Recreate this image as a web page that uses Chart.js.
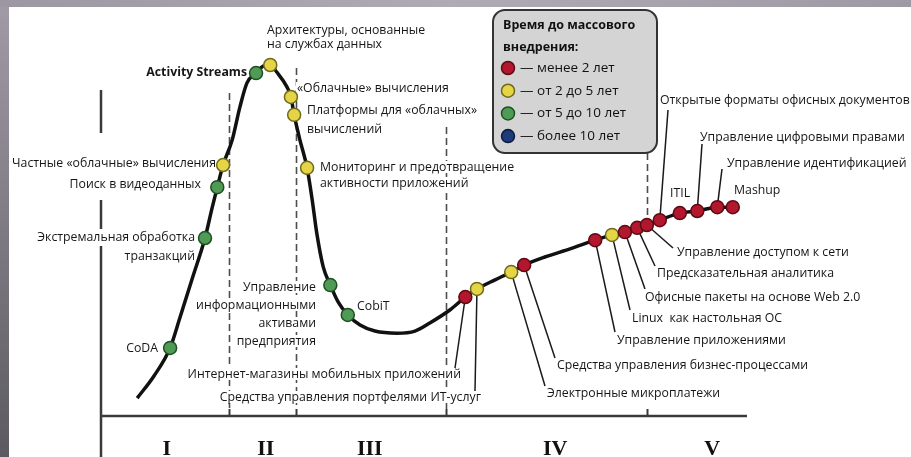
<!DOCTYPE html>
<html lang="ru">
<head>
<meta charset="utf-8">
<script src="https://cdn.jsdelivr.net/npm/chart.js@4.4.1/dist/chart.umd.min.js"></script>
<style>
  html, body { margin: 0; padding: 0; background: #fff; }
  #wrap { position: relative; width: 911px; height: 457px; }
</style>
</head>
<body>
<div id="wrap"><canvas id="hype" width="911" height="457"></canvas></div>
<script>
// Фазы цикла зрелости (границы по оси времени, 0..100)
const stageNames = ['I', 'II', 'III', 'IV', 'V'];
const stageBounds = [0, 19.8, 30.2, 53.4, 84.5, 100];
const stageLabelPos = [10.2, 25.5, 41.6, 70.3, 94.6];

// Кривая: время и уровень ожиданий
const curveTime = [5.6, 8.2, 10.7, 12.2, 14.2, 16.1, 17.2, 18.0, 18.9, 20.3, 21.5, 22.6, 24.0, 25.1, 26.2,
  27.2, 28.8, 29.4, 29.9, 30.8, 31.9, 32.7, 33.4, 34.4, 35.5, 36.7, 38.2, 40.1, 42.4, 45.8, 48.6,
  50.9, 54.0, 56.4, 58.2, 61.0, 63.5, 65.5, 68.7, 72.6, 76.5, 79.1, 81.1, 83.0, 84.5, 86.5, 89.6,
  92.3, 95.4, 97.8];
const curveLevel = [5.1, 11.4, 19.4, 27.9, 39.6, 50.7, 59.3, 65.2, 71.5, 78.6, 88.0, 94.9, 97.7, 99.7, 100.0,
  98.0, 93.7, 90.9, 85.8, 78.6, 70.7, 61.5, 52.1, 42.5, 37.3, 32.5, 28.8, 25.9, 24.2, 23.6, 24.2,
  26.5, 30.2, 33.9, 36.2, 38.8, 41.0, 43.0, 45.3, 47.6, 50.1, 51.6, 52.4, 53.6, 54.4, 55.8, 57.8,
  58.4, 59.5, 59.5];

// Технологии
const techNames = [
  'CoDA', 'Экстремальная обработка транзакций', 'Поиск в видеоданных', 'Частные «облачные» вычисления',
  'Activity Streams', 'Архитектуры, основанные на службах данных', '«Облачные» вычисления',
  'Платформы для «облачных» вычислений', 'Мониторинг и предотвращение активности приложений',
  'Управление информационными активами предприятия', 'CobiT', 'Интернет-магазины мобильных приложений',
  'Средства управления портфелями ИТ-услуг', 'Электронные микроплатежи', 'Средства управления бизнес-процессами',
  'Управление приложениями', 'Linux  как настольная ОС', 'Офисные пакеты на основе Web 2.0',
  'Предсказательная аналитика', 'Управление доступом к сети', 'Открытые форматы офисных документов',
  'ITIL', 'Управление цифровыми правами', 'Управление идентификацией', 'Mashup'
];
const techTime = [10.7, 16.1, 18.0, 18.9, 24.0, 26.2, 29.4, 29.9, 31.9, 35.5, 38.2, 56.4, 58.2, 63.5,
  65.5, 76.5, 79.1, 81.1, 83.0, 84.5, 86.5, 89.6, 92.3, 95.4, 97.8];
const techLevel = [19.4, 50.7, 65.2, 71.5, 97.7, 100.0, 90.9, 85.8, 70.7, 37.3, 28.8, 33.9, 36.2, 41.0,
  43.0, 50.1, 51.6, 52.4, 53.6, 54.4, 55.8, 57.8, 58.4, 59.5, 59.5];
// 0: менее 2 лет, 1: от 2 до 5, 2: от 5 до 10, 3: более 10
const techAdoption = [2, 2, 2, 1, 2, 1, 1, 1, 1, 2, 2, 0, 1, 1, 0, 0, 1, 0, 0, 0, 0, 0, 0, 0, 0];

// Легенда
const legendTitle = ['Время до массового', 'внедрения:'];
const adoptionLabels = ['— менее 2 лет', '— от 2 до 5 лет', '— от 5 до 10 лет', '— более 10 лет'];
const adoptionFill = ['#b3172d', '#e6d447', '#4f9a55', '#1d3a7a'];
const adoptionStroke = ['#5c0a14', '#6e6a1c', '#1f4f24', '#0c1a3c'];

// Подписи (пиксели): строки, x, y, выравнивание, конец выноски
const labelLayout = [
  { lines: ['CoDA'], x: 158, y: 348, align: 'right' },
  { lines: ['Экстремальная обработка', 'транзакций'], x: 195, y: 237, lh: 19, align: 'right' },
  { lines: ['Поиск в видеоданных'], x: 201, y: 184, align: 'right' },
  { lines: ['Частные «облачные» вычисления'], x: 216, y: 163, align: 'right' },
  { lines: ['Activity Streams'], x: 247, y: 72, align: 'right', bold: true },
  { lines: ['Архитектуры, основанные', 'на службах данных'], x: 267, y: 30, lh: 14, align: 'left' },
  { lines: ['«Облачные» вычисления'], x: 297, y: 88, align: 'left' },
  { lines: ['Платформы для «облачных»', 'вычислений'], x: 307, y: 110, lh: 19, align: 'left' },
  { lines: ['Мониторинг и предотвращение', 'активности приложений'], x: 320, y: 167, lh: 16, align: 'left' },
  { lines: ['Управление', 'информационными', 'активами', 'предприятия'], x: 316, y: 287, lh: 18, align: 'right' },
  { lines: ['CobiT'], x: 357, y: 306, align: 'left' },
  { lines: ['Интернет-магазины мобильных приложений'], x: 461, y: 374, align: 'right', lead: [455, 368] },
  { lines: ['Средства управления портфелями ИТ-услуг'], x: 481, y: 397, align: 'right', lead: [475, 391] },
  { lines: ['Электронные микроплатежи'], x: 547, y: 393, align: 'left', lead: [545, 386] },
  { lines: ['Средства управления бизнес-процессами'], x: 557, y: 365, align: 'left', lead: [555, 358] },
  { lines: ['Управление приложениями'], x: 617, y: 340, align: 'left', lead: [615, 332] },
  { lines: ['Linux  как настольная ОС'], x: 632, y: 318, align: 'left', lead: [630, 310] },
  { lines: ['Офисные пакеты на основе Web 2.0'], x: 645, y: 297, align: 'left', lead: [645, 289] },
  { lines: ['Предсказательная аналитика'], x: 657, y: 273, align: 'left', lead: [655, 266] },
  { lines: ['Управление доступом к сети'], x: 677, y: 252, align: 'left', lead: [673, 248] },
  { lines: ['Открытые форматы офисных документов'], x: 660, y: 100, align: 'left', lead: [668, 110] },
  { lines: ['ITIL'], x: 670, y: 193, align: 'left' },
  { lines: ['Управление цифровыми правами'], x: 700, y: 137, align: 'left', lead: [702, 144] },
  { lines: ['Управление идентификацией'], x: 727, y: 163, align: 'left', lead: [722, 169] },
  { lines: ['Mashup'], x: 734, y: 190, align: 'left' }
];

// верх и низ пунктирных линий фаз (пиксели)
const dividerSpans = [[93, 409], [68, 409], [127, 409], [153, 222]];

const labelFont = "12.3px 'Open Sans', sans-serif";

const hypeDecor = {
  id: 'hypeDecor',
  beforeDatasetsDraw(chart) {
    const ctx = chart.ctx;
    const xs = chart.scales.x, ys = chart.scales.y;
    const y0 = ys.getPixelForValue(0);
    const x0 = xs.getPixelForValue(0);
    ctx.save();

    // пунктир между фазами
    ctx.strokeStyle = '#4d4d4d';
    ctx.lineWidth = 1.6;
    ctx.setLineDash([7, 4]);
    stageBounds.slice(1, 5).forEach((b, i) => {
      const px = Math.round(xs.getPixelForValue(b)) + 0.5;
      ctx.beginPath();
      ctx.moveTo(px, dividerSpans[i][0]);
      ctx.lineTo(px, dividerSpans[i][1]);
      ctx.stroke();
    });
    ctx.setLineDash([]);

    // оси
    ctx.strokeStyle = '#3a3a3a';
    ctx.lineWidth = 2.5;
    ctx.beginPath();
    ctx.moveTo(x0, y0);
    ctx.lineTo(xs.getPixelForValue(100), y0);
    [[90, 133], [200, 229], [246, 457]].forEach(s => {
      ctx.moveTo(x0, s[0]);
      ctx.lineTo(x0, s[1]);
    });
    ctx.stroke();
    ctx.lineWidth = 2;
    stageBounds.slice(1, 5).forEach(b => {
      const px = Math.round(xs.getPixelForValue(b)) + 0.5;
      ctx.beginPath();
      ctx.moveTo(px, y0 - 7);
      ctx.lineTo(px, y0);
      ctx.stroke();
    });

    // римские цифры фаз
    ctx.fillStyle = '#111';
    ctx.font = "bold 22px 'Liberation Serif', serif";
    ctx.textAlign = 'center';
    ctx.textBaseline = 'alphabetic';
    stageNames.forEach((s, i) => {
      ctx.fillText(s, xs.getPixelForValue(stageLabelPos[i]), 455);
    });

    // выноски
    ctx.strokeStyle = '#1a1a1a';
    ctx.lineWidth = 1.5;
    labelLayout.forEach((l, i) => {
      if (!l.lead) return;
      ctx.beginPath();
      ctx.moveTo(xs.getPixelForValue(techTime[i]), ys.getPixelForValue(techLevel[i]));
      ctx.lineTo(l.lead[0], l.lead[1]);
      ctx.stroke();
    });

    // подписи
    ctx.textBaseline = 'middle';
    labelLayout.forEach(l => {
      ctx.font = l.bold ? "bold " + labelFont : labelFont;
      ctx.textAlign = l.align;
      l.lines.forEach((t, k) => {
        const y = l.y + k * (l.lh || 15);
        const w = ctx.measureText(t).width;
        const left = l.align === 'right' ? l.x - w : l.x;
        ctx.fillStyle = '#fff';
        ctx.fillRect(left - 1, y - 6, w + 2, 12);
        ctx.fillStyle = '#161616';
        ctx.fillText(t, l.x, y);
      });
    });

    // легенда
    ctx.fillStyle = '#d4d4d4';
    ctx.strokeStyle = '#333';
    ctx.lineWidth = 2;
    ctx.beginPath();
    ctx.roundRect(493, 10, 164, 143, 12);
    ctx.fill();
    ctx.stroke();
    ctx.textAlign = 'left';
    ctx.fillStyle = '#111';
    ctx.font = "bold 12.5px 'Open Sans', sans-serif";
    legendTitle.forEach((t, k) => ctx.fillText(t, 503, 25 + k * 22));
    ctx.font = "13.5px 'Open Sans', sans-serif";
    adoptionLabels.forEach((t, k) => {
      const y = 68 + k * 22.7;
      ctx.beginPath();
      ctx.arc(508, y, 6.5, 0, Math.PI * 2);
      ctx.fillStyle = adoptionFill[k];
      ctx.fill();
      ctx.lineWidth = 1.5;
      ctx.strokeStyle = adoptionStroke[k];
      ctx.stroke();
      ctx.fillStyle = '#111';
      ctx.fillText(t, 520, y);
    });
    ctx.restore();
  },
  afterDraw(chart) {
    // серая рамка слайда
    const ctx = chart.ctx;
    ctx.save();
    let g = ctx.createLinearGradient(0, 0, 0, 457);
    g.addColorStop(0, '#a19ba7');
    g.addColorStop(1, '#5c5a60');
    ctx.fillStyle = g;
    ctx.fillRect(0, 0, 9, 457);
    g = ctx.createLinearGradient(0, 0, 911, 0);
    g.addColorStop(0, '#9c97a2');
    g.addColorStop(0.5, '#b0aab5');
    g.addColorStop(1, '#9e99a4');
    ctx.fillStyle = g;
    ctx.fillRect(0, 0, 911, 7);
    ctx.restore();
  }
};

const curveData = curveTime.map((t, i) => ({ x: t, y: curveLevel[i] }));
const techData = techTime.map((t, i) => ({ x: t, y: techLevel[i] }));

new Chart(document.getElementById('hype'), {
  type: 'scatter',
  data: {
    datasets: [
      {
        label: 'Технологии',
        data: techData,
        backgroundColor: techAdoption.map(a => adoptionFill[a]),
        borderColor: techAdoption.map(a => adoptionStroke[a]),
        borderWidth: 1.5,
        pointRadius: 6.5,
        clip: false,
        order: 0
      },
      {
        label: 'Кривая',
        data: curveData,
        showLine: true,
        borderColor: '#111',
        borderWidth: 3.5,
        pointRadius: 0,
        cubicInterpolationMode: 'monotone',
        clip: false,
        order: 1
      }
    ]
  },
  options: {
    responsive: false,
    animation: false,
    devicePixelRatio: 1,
    layout: { padding: 0, autoPadding: false },
    scales: {
      x: { type: 'linear', display: false, min: -15.635, max: 125.387 },
      y: { type: 'linear', display: false, min: -11.681, max: 118.519 }
    },
    plugins: {
      legend: { display: false },
      tooltip: { enabled: false },
      title: { display: false }
    }
  },
  plugins: [hypeDecor]
});
</script>
</body>
</html>
